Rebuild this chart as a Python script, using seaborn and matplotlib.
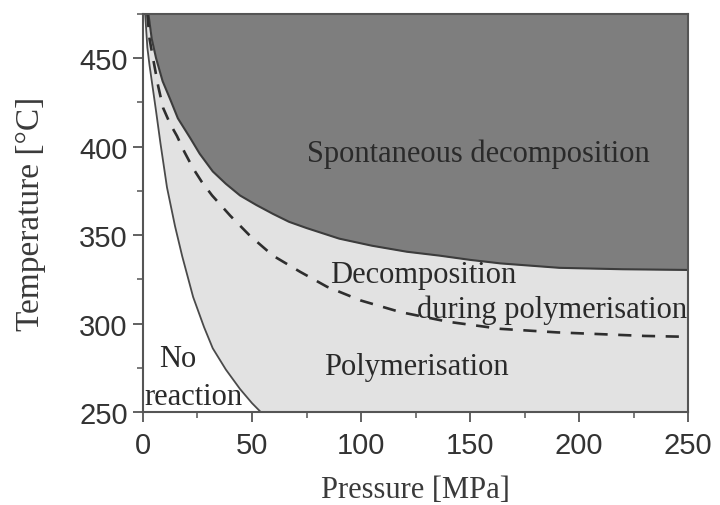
import matplotlib
matplotlib.use("Agg")
import matplotlib.pyplot as plt
import seaborn as sns
from matplotlib.ticker import MultipleLocator

# Boundary: spontaneous decomposition (upper solid line)
upper_p = [2.5, 4, 6, 9, 12.4, 16, 21.6, 26, 32, 38, 44.5, 52, 59.6, 67, 75,
           90, 105, 121, 136, 150, 164, 191, 220, 250]
upper_t = [475, 461, 450, 437, 427, 416, 405, 396, 386, 379, 372.4, 367, 362,
           357.5, 354, 348, 344, 340.6, 338.4, 336, 334, 331.5, 330.7, 330.3]

# Boundary: decomposition during polymerisation (dashed line)
dash_p = [2, 3, 4.6, 7, 9.2, 12.4, 15.6, 19, 23, 27, 31.7, 40, 49, 59.6, 72,
          84.4, 100, 118, 140, 164, 190, 210, 230, 250]
dash_t = [475, 461, 450, 434, 422, 413, 406, 397, 387.7, 380, 372.4, 361,
          349.7, 338.4, 329.3, 320.8, 313, 306.5, 301, 297, 295, 294, 293,
          292.5]

# Boundary: no reaction (lower solid line)
lower_p = [1, 2, 3, 4.5, 6, 8, 11, 14.7, 18, 23, 28, 32, 38, 44.5, 50, 54]
lower_t = [475, 456, 446, 433, 420, 402, 377, 355, 338, 315, 298, 286, 274,
           263, 255, 250]

x_ticks = [0, 50, 100, 150, 200, 250]
y_ticks = [250, 300, 350, 400, 450]

sns.set_style("ticks")
plt.rcParams["font.family"] = ["Liberation Sans", "DejaVu Sans"]

fig = plt.figure(figsize=(7.2, 5.06), dpi=100)
ax = fig.add_axes([0.1986, 0.1838, 0.757, 0.7866])

light = "#e2e2e2"
dark = "#7e7e7e"
line_c = "#3c3c3c"

ax.set_facecolor(light)
ax.set_xlim(0, 250)
ax.set_ylim(250, 475)

# no reaction region (white)
ax.fill_betweenx(lower_t, 0, lower_p, color="white", lw=0, zorder=1)
# spontaneous decomposition region (dark)
ax.fill_between(upper_p, upper_t, 480, color=dark, lw=0, zorder=1)
ax.fill_between([0, upper_p[0]], [475, 475], 480, color=dark, lw=0, zorder=1)

sns.lineplot(x=upper_p, y=upper_t, ax=ax, color=line_c, lw=1.5, sort=False,
             estimator=None, zorder=3)
sns.lineplot(x=lower_p, y=lower_t, ax=ax, color="#4a4a4a", lw=1.3, sort=False,
             estimator=None, zorder=3)
sns.lineplot(x=dash_p, y=dash_t, ax=ax, color="#2e2e2e", lw=1.9, sort=False,
             estimator=None, zorder=3, linestyle=(0, (5, 4)))

serif = ["Liberation Serif", "DejaVu Serif"]
tc = "#2a2a2a"
fs = 22
ax.text(153.7, 396, "Spontaneous decomposition", family=serif, fontsize=fs,
        color=tc, ha="center", va="center", zorder=4)
ax.text(86, 327.5, "Decomposition", family=serif, fontsize=fs, color=tc,
        ha="left", va="center", zorder=4)
ax.text(249.8, 308, "during polymerisation", family=serif, fontsize=fs,
        color=tc, ha="right", va="center", zorder=4)
ax.text(83, 275.5, "Polymerisation", family=serif, fontsize=fs, color=tc,
        ha="left", va="center", zorder=4)
ax.text(16, 280, "No", family=serif, fontsize=fs, color=tc,
        ha="center", va="center", zorder=4)
ax.text(0.5, 258.5, "reaction", family=serif, fontsize=fs, color=tc,
        ha="left", va="center", zorder=4)

ax.set_xticks(x_ticks)
ax.set_yticks(y_ticks)
ax.xaxis.set_minor_locator(MultipleLocator(25))
ax.yaxis.set_minor_locator(MultipleLocator(25))
ax.tick_params(which="major", direction="out", length=7, width=1.3,
               color="#555555", labelsize=21, labelcolor="#333333", pad=4)
ax.tick_params(axis="x", which="major", pad=7)
ax.tick_params(which="minor", direction="out", length=4, width=1.1,
               color="#555555")

for s in ax.spines.values():
    s.set_color("#555555")
    s.set_linewidth(1.5)
    s.set_zorder(5)

ax.set_xlabel("Pressure [MPa]", family=serif, fontsize=22, color="#3a3a3a",
              labelpad=11)
ax.set_ylabel("Temperature [°C]", family=serif, fontsize=24, color="#3a3a3a",
              labelpad=24)

fig.savefig("out.png", dpi=100)
